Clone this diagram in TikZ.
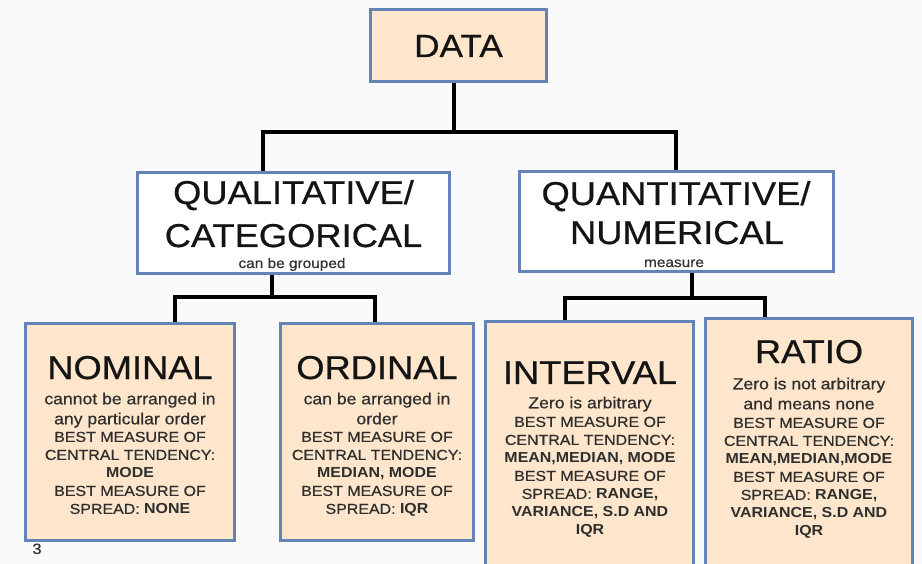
\documentclass[tikz,border=0pt]{standalone}
\usepackage{fontspec}
\setmainfont{Liberation Sans}[FakeStretch=1.1, UprightFeatures={FakeBold=0.6}]
\definecolor{bgc}{HTML}{FAFAFA}
\definecolor{peach}{HTML}{FDE6CB}
\definecolor{edge}{HTML}{6484B8}
\definecolor{headc}{HTML}{141414}
\definecolor{bodyc}{HTML}{2E2E2E}
\definecolor{smallc}{HTML}{333333}
\tikzset{
  box/.style={draw=edge, line width=1.8pt, fill=peach, inner sep=0pt},
  wbox/.style={draw=edge, line width=1.8pt, fill=white, inner sep=0pt},
  conn/.style={draw=black, line width=4pt, line join=miter, line cap=butt},
  head/.style={anchor=base, inner sep=0pt, text=headc, font=\fontsize{33}{43}\selectfont},
  desc/.style={anchor=north, inner sep=0pt, align=center, text=bodyc, font=\fontsize{16}{20}\selectfont},
  detail/.style={anchor=north, inner sep=0pt, align=center, text=bodyc, font=\fontsize{14.5}{18}\selectfont},
  tiny/.style={anchor=base, inner sep=0pt, text=smallc, font=\fontsize{14}{16}\selectfont}
}
\begin{document}
\begin{tikzpicture}[x=1pt,y=-1pt]
\fill[bgc] (0,0) rectangle (922,564);
\clip (0,0) rectangle (922,564);
\coordinate (j0) at (454,132);
\coordinate (l1) at (263,132);
\coordinate (r1) at (676,132);
\coordinate (j1) at (272,297);
\coordinate (l2) at (175,297);
\coordinate (r2) at (375,297);
\coordinate (j2) at (692,298);
\coordinate (l3) at (565,298);
\coordinate (r3) at (765,298);
\path
  (458.5,45.5) node[box, minimum width=175, minimum height=71] (data) {}
  (293.5,223) node[wbox, minimum width=311, minimum height=100] (qual) {}
  (676.5,221.5) node[wbox, minimum width=313, minimum height=99] (quant) {}
  (130,432) node[box, minimum width=208, minimum height=216] (nominal) {}
  (377,432) node[box, minimum width=192, minimum height=216] (ordinal) {}
  (589.5,451) node[box, minimum width=207, minimum height=258] (interval) {}
  (809,449.5) node[box, minimum width=206, minimum height=261] (ratio) {};
% connectors
\draw[conn] (data.south -| j0) -- (j0);
\draw[conn] (qual.north -| l1) -- (l1) -- (r1) -- (quant.north -| r1);
\draw[conn] (qual.south -| j1) -- (j1);
\draw[conn] (nominal.north -| l2) -- (l2) -- (r2) -- (ordinal.north -| r2);
\draw[conn] (quant.south -| j2) -- (j2);
\draw[conn] (interval.north -| l3) -- (l3) -- (r3) -- (ratio.north -| r3);
% redraw box outlines over connector ends
\foreach \n in {data,qual,quant,nominal,ordinal,interval,ratio}{
  \draw[edge, line width=1.8pt] (\n.north west) rectangle (\n.south east);
}
% texts
\node[head, font=\fontsize{32}{40}\selectfont] (tdata) at (458.5,57) {DATA};
\node[head] (tq1) at (293.5,204) {QUALITATIVE/};
\node[head] (tq2) at (293.5,247) {CATEGORICAL};
\node[tiny] (tq3) at (292,268) {can be grouped};
\node[head] (tn1) at (676,205) {QUANTITATIVE/};
\node[head] (tn2) at (677,244) {NUMERICAL};
\node[tiny] (tn3) at (674,267) {measure};

\node[head] (hnom) at (130,379) {NOMINAL};
\node[desc] (dnom) at (130,392.5) {cannot be arranged in\\any particular order};
\node[detail] (xnom) at (130,431.6) {BEST MEASURE OF\\CENTRAL TENDENCY:\\\textbf{MODE}\\BEST MEASURE OF\\SPREAD: \textbf{NONE}};

\node[head] (hord) at (377,379) {ORDINAL};
\node[desc] (dord) at (377,392.5) {can be arranged in\\order};
\node[detail] (xord) at (377,431.6) {BEST MEASURE OF\\CENTRAL TENDENCY:\\\textbf{MEDIAN, MODE}\\BEST MEASURE OF\\SPREAD: \textbf{IQR}};

\node[head] (hint) at (590,384) {INTERVAL};
\node[desc] (dint) at (590,396.5) {Zero is arbitrary};
\node[detail] (xint) at (590,416.6) {BEST MEASURE OF\\CENTRAL TENDENCY:\\\textbf{MEAN,MEDIAN, MODE}\\BEST MEASURE OF\\SPREAD: \textbf{RANGE,}\\\textbf{VARIANCE, S.D AND}\\\textbf{IQR}};

\node[head] (hrat) at (809,363) {RATIO};
\node[desc] (drat) at (809,377.5) {Zero is not arbitrary\\and means none};
\node[detail] (xrat) at (809,417.6) {BEST MEASURE OF\\CENTRAL TENDENCY:\\\textbf{MEAN,MEDIAN,MODE}\\BEST MEASURE OF\\SPREAD: \textbf{RANGE,}\\\textbf{VARIANCE, S.D AND}\\\textbf{IQR}};

\node[anchor=base, inner sep=0pt, text=smallc, font=\fontsize{15}{17}\selectfont] (pg) at (37,554) {3};
\end{tikzpicture}
\end{document}
